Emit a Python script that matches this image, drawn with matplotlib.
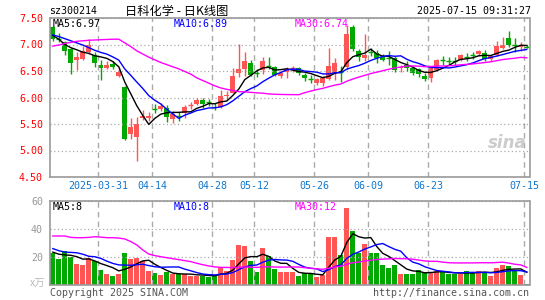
import matplotlib
matplotlib.use('Agg')
import matplotlib.pyplot as plt
import numpy as np
import pandas as pd

# trading days on the chart (weekdays minus exchange holidays)
HOLIDAYS = ['2025-04-04', '2025-05-01', '2025-05-02', '2025-05-05', '2025-06-02']
days = [d.strftime('%Y-%m-%d') for d in pd.bdate_range('2025-03-19', '2025-07-15')
        if d.strftime('%Y-%m-%d') not in HOLIDAYS]

opens = [7.33, 7.11, 7.05, 6.92, 6.70, 6.72, 6.86, 6.80, 6.62, 6.55,
         6.63, 6.41, 6.20, 5.31, 5.26, 5.62, 5.62, 5.79, 5.79, 5.81,
         5.60, 5.67, 5.70, 5.83, 5.88, 5.95, 5.93, 5.82, 5.83, 6.02,
         6.09, 6.46, 6.53, 6.66, 6.47, 6.52, 6.60, 6.57, 6.40, 6.49,
         6.53, 6.55, 6.43, 6.35, 6.28, 6.28, 6.34, 6.46, 6.50, 6.57,
         7.33, 6.87, 6.75, 6.87, 6.84, 6.76, 6.76, 6.74, 6.55, 6.61,
         6.56, 6.53, 6.41, 6.36, 6.52, 6.72, 6.70, 6.70, 6.71, 6.78,
         6.81, 6.82, 6.84, 6.73, 6.80, 6.94, 7.12, 7.00, 6.96, 6.97]
highs = [7.35, 7.22, 7.07, 6.93, 6.85, 6.97, 7.10, 6.86, 6.71, 6.68,
         6.69, 6.55, 6.21, 5.61, 5.63, 5.76, 5.72, 5.88, 5.89, 5.85,
         5.74, 5.73, 5.86, 5.92, 5.99, 5.99, 5.98, 5.89, 6.15, 6.12,
         6.56, 7.01, 6.86, 6.70, 6.54, 6.77, 6.76, 6.59, 6.50, 6.57,
         6.59, 6.57, 6.46, 6.42, 6.37, 6.40, 6.93, 6.75, 6.60, 7.36,
         7.37, 6.92, 7.20, 6.94, 6.90, 6.82, 6.87, 6.78, 6.62, 6.68,
         6.59, 6.56, 6.46, 6.59, 6.73, 6.78, 6.77, 6.77, 6.82, 6.84,
         6.86, 6.90, 6.89, 6.81, 7.07, 7.14, 7.26, 7.12, 7.04, 7.00]
lows = [7.06, 7.04, 6.80, 6.45, 6.51, 6.70, 6.82, 6.58, 6.33, 6.54,
        6.53, 6.39, 5.19, 5.22, 4.81, 5.57, 5.55, 5.70, 5.74, 5.54,
        5.52, 5.56, 5.62, 5.78, 5.86, 5.80, 5.84, 5.76, 5.80, 5.96,
        6.08, 6.39, 6.41, 6.41, 6.39, 6.45, 6.54, 6.40, 6.36, 6.36,
        6.49, 6.43, 6.31, 6.27, 6.24, 6.21, 6.33, 6.33, 6.30, 6.53,
        6.88, 6.68, 6.69, 6.78, 6.66, 6.68, 6.62, 6.49, 6.49, 6.50,
        6.42, 6.38, 6.32, 6.29, 6.50, 6.62, 6.61, 6.62, 6.69, 6.69,
        6.72, 6.79, 6.69, 6.69, 6.78, 6.92, 6.95, 6.86, 6.88, 6.93]
closes = [7.11, 7.10, 6.88, 6.65, 6.76, 6.88, 6.99, 6.65, 6.55, 6.62,
          6.58, 6.49, 5.21, 5.44, 5.50, 5.66, 5.65, 5.78, 5.84, 5.63,
          5.69, 5.66, 5.82, 5.85, 5.96, 5.88, 5.92, 5.80, 6.03, 6.04,
          6.40, 6.53, 6.69, 6.43, 6.46, 6.68, 6.59, 6.43, 6.47, 6.54,
          6.55, 6.46, 6.37, 6.34, 6.34, 6.36, 6.59, 6.65, 6.49, 7.20,
          6.92, 6.77, 6.81, 6.86, 6.75, 6.71, 6.75, 6.52, 6.57, 6.55,
          6.47, 6.44, 6.35, 6.56, 6.71, 6.71, 6.69, 6.69, 6.80, 6.77,
          6.80, 6.88, 6.73, 6.78, 6.97, 6.99, 7.00, 6.99, 6.98, 6.95]
# volume, unit 万
volumes = [23.0, 18.7, 24.2, 20.2, 15.0, 14.3, 19.4, 17.1, 10.7, 7.9,
           6.7, 7.9, 23.1, 18.6, 19.4, 17.1, 10.2, 8.8, 7.1, 9.0,
           7.6, 7.6, 7.9, 6.7, 6.7, 6.7, 6.0, 6.7, 12.4, 10.0,
           17.9, 28.6, 27.9, 17.1, 9.5, 26.7, 21.0, 11.4, 9.0, 9.0,
           9.0, 6.7, 8.3, 8.3, 6.0, 7.1, 34.0, 34.0, 21.4, 55.2,
           38.6, 23.1, 29.3, 23.1, 23.1, 14.3, 12.4, 14.3, 7.9, 7.9,
           7.9, 10.7, 9.0, 9.0, 10.0, 9.0, 7.9, 7.9, 7.9, 10.0,
           9.0, 10.0, 9.0, 6.7, 12.4, 14.3, 13.6, 10.0, 7.1, 0.7]

# start of each moving average line (needs days before the window)
ma5_head = [7.17, 7.10, 7.00, 6.94]
ma10_head = [7.18, 7.15, 7.11, 7.07, 7.03, 6.99, 6.94, 6.89, 6.85]
ma30_head = [6.97, 6.99, 7.02, 7.04, 7.06, 7.07, 7.08, 7.085, 7.09, 7.095,
             7.10, 7.10, 7.03, 6.96, 6.88, 6.82, 6.76, 6.71, 6.66, 6.62,
             6.58, 6.54, 6.49, 6.44, 6.37, 6.32, 6.27, 6.22, 6.18]
vma5_head = [23.5, 22.0, 21.5, 21.2]
vma10_head = [26.0, 24.5, 23.5, 23.3, 23.0, 22.0, 20.5, 20.2, 19.0]
vma30_head = [35.0, 35.0, 35.0, 34.0, 33.8, 33.8, 34.0, 34.5, 34.2, 33.8,
              33.8, 33.5, 32.9, 31.0, 28.6, 25.0, 22.1, 21.0, 20.2, 19.5,
              18.8, 18.1, 17.4, 16.7, 15.5, 14.5, 13.6, 12.9, 12.6]

tick_dates = ['2025-03-31', '2025-04-14', '2025-04-28', '2025-05-12',
              '2025-05-26', '2025-06-09', '2025-06-23', '2025-07-15']
tick_labels = ['2025-03-31', '04-14', '04-28', '05-12', '05-26', '06-09', '06-23', '07-15']

RED = '#ff5555'
GREEN = '#00a800'
GRID = '#aaaaaa'
MONO = 'DejaVu Sans Mono'
W, H = 545, 300


def moving_avg(vals, n, head):
    s = pd.Series(vals, dtype=float).rolling(n).mean().to_numpy()
    s[:len(head)] = head
    return s


def fx(px):
    return px / W


def fy(py):
    return 1 - py / H


o = np.array(opens)
h = np.array(highs)
l = np.array(lows)
c = np.array(closes)
v = np.array(volumes)
x = np.arange(len(c))
cols = np.where(c >= o, RED, GREEN)
doji = np.abs(c - o) < 0.02
tick_pos = np.array([days.index(d) for d in tick_dates]) - 0.4

fig = plt.figure(figsize=(5.45, 3.0), dpi=100)
ax = fig.add_axes([fx(50), fy(177), fx(479.5), 159 / H])
axv = fig.add_axes([fx(50), fy(285), fx(479.5), 84 / H])

# candles
ax.vlines(x, l, h, colors=cols, lw=1)
ax.bar(x[~doji], np.abs(c - o)[~doji], bottom=np.minimum(o, c)[~doji],
       width=0.8, color=cols[~doji], lw=0)
ax.hlines(c[doji], x[doji] - 0.4, x[doji] + 0.4, colors=cols[doji], lw=1)

ax.plot(x, moving_avg(c, 5, ma5_head), color='black', lw=1)
ax.plot(x, moving_avg(c, 10, ma10_head), color='blue', lw=1)
ax.plot(x, moving_avg(c, 30, ma30_head), color='magenta', lw=1)

# volume
axv.bar(x, v, width=0.8, color=cols, lw=0)
axv.plot(x, moving_avg(v, 5, vma5_head), color='black', lw=1)
axv.plot(x, moving_avg(v, 10, vma10_head), color='blue', lw=1)
axv.plot(x, moving_avg(v, 30, vma30_head), color='magenta', lw=1)

for a in (ax, axv):
    a.set_xlim(-0.47, 79.45)
    a.set_xticks(tick_pos)
    a.grid(axis='x', color=GRID, ls=(0, (4, 3)), lw=1)
    a.grid(axis='y', color=GRID, ls=(0, (1, 2)), lw=0.9)
    a.tick_params(length=0)
    for s in a.spines.values():
        s.set_color('#999999')
        s.set_linewidth(1.2)

ax.set_ylim(4.5, 7.5)
ax.set_yticks(np.arange(4.5, 7.51, 0.5))
ax.set_yticklabels(['%.2f' % t for t in np.arange(4.5, 7.51, 0.5)],
                   color='red', fontsize=7.2, family=MONO)
ax.set_xticklabels(tick_labels, color='#1177cc', fontsize=7.2, family=MONO)
ax.tick_params(axis='y', pad=5)
ax.tick_params(axis='x', pad=3)

axv.set_ylim(0, 60)
axv.set_yticks([20, 40, 60])
axv.set_yticklabels(['20', '40', '60'], color='#999999', fontsize=7.2, family=MONO)
axv.tick_params(axis='y', pad=5)
axv.set_xticklabels([])

# legends
lab = dict(fontsize=7.2, family=MONO, va='center')
fig.text(fx(53), fy(24), 'MA5:6.97', color='black', **lab)
fig.text(fx(174), fy(24), 'MA10:6.89', color='blue', **lab)
fig.text(fx(295), fy(24), 'MA30:6.74', color='magenta', **lab)
fig.text(fx(53), fy(207), 'MA5:8', color='black', **lab)
fig.text(fx(174), fy(207), 'MA10:8', color='blue', **lab)
fig.text(fx(295), fy(207), 'MA30:12', color='magenta', **lab)

# header and footer
fig.text(fx(49), fy(11), 'sz300214', color='black', **lab)
fig.text(fx(177), fy(11), '日科化学 - 日K线图', color='black', ha='center', va='center',
         fontsize=8.8, family=['Noto Sans CJK SC', 'DejaVu Sans'])
fig.text(fx(531), fy(11), '2025-07-15 09:31:27', color='black', ha='right', **lab)
fig.text(fx(45), fy(284), 'x万', color='#bbbbbb', ha='right', va='center',
         fontsize=7.5, family=['Noto Sans CJK SC', 'DejaVu Sans'])
fig.text(fx(50), fy(293), 'Copyright 2025 SINA.COM', color='#555555', **lab)
fig.text(fx(529), fy(293), 'http://finance.sina.com.cn', color='#555555', ha='right', **lab)
fig.text(fx(527), fy(143), 'sina', color='#cccccc', ha='right', va='center',
         fontsize=12, fontweight='bold', fontstyle='italic', family='DejaVu Sans')

fig.savefig('out.png', dpi=100)
